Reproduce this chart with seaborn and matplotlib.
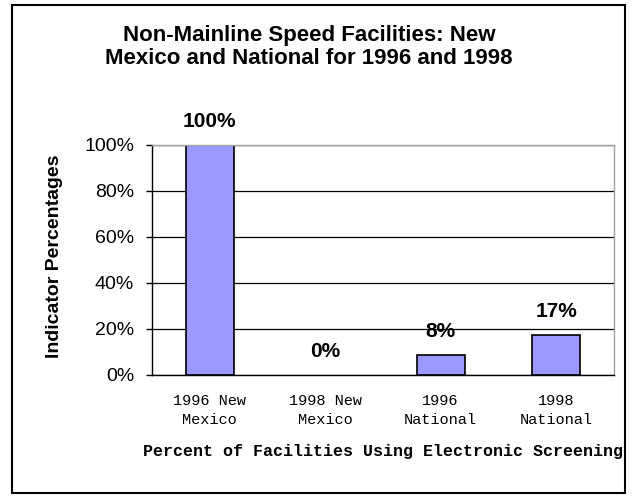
import pandas as pd
import matplotlib
matplotlib.use("Agg")
import matplotlib.pyplot as plt
import seaborn as sns
from matplotlib.patches import Rectangle

categories = ["1996 New\nMexico", "1998 New\nMexico", "1996\nNational", "1998\nNational"]
values = [100, 0, 8.7, 17.4]
labels = ["100%", "0%", "8%", "17%"]

df = pd.DataFrame({"cat": categories, "pct": values})

sns.set_style("white")
plt.rcParams["font.family"] = ["Liberation Sans", "DejaVu Sans"]
plt.rcParams["text.color"] = "black"
plt.rcParams["axes.labelcolor"] = "black"
plt.rcParams["xtick.color"] = "black"
plt.rcParams["ytick.color"] = "black"

fig = plt.figure(figsize=(6.36, 4.96), dpi=100)
ax = fig.add_axes([0.239, 0.244, 0.726, 0.464])

sns.barplot(data=df, x="cat", y="pct", color="#9999FF", saturation=1,
            edgecolor="black", linewidth=1.2, width=0.415, ax=ax)
# no outline for the empty bar
for p in ax.patches:
    if p.get_height() == 0:
        p.set_linewidth(0)

ax.set_ylim(0, 100)
ax.set_xlim(-0.5, 3.5)
ax.set_yticks(range(0, 101, 20))
ax.set_yticklabels([f"{v}%" for v in range(0, 101, 20)], fontsize=14)
ax.yaxis.grid(True, color="black", linewidth=0.9)
ax.set_axisbelow(True)

ax.set_xticks([-0.5, 0.5, 1.5, 2.5, 3.5])
ax.set_xticklabels([])
ax.set_xticks([0, 1, 2, 3], minor=True)
ax.set_xticklabels(categories, minor=True, family="Liberation Mono",
                   fontsize=11, linespacing=1.45)
ax.tick_params(axis="x", which="minor", length=0, pad=14)
ax.tick_params(axis="x", which="major", direction="out", length=6, width=1)
ax.tick_params(axis="y", direction="out", length=4.3, width=1, left=True, pad=8.6)

for s in ["left", "bottom"]:
    ax.spines[s].set_color("black")
    ax.spines[s].set_linewidth(1)
for s in ["top", "right"]:
    ax.spines[s].set_color("#a0a0a0")
    ax.spines[s].set_linewidth(1)

for i, (v, t) in enumerate(zip(values, labels)):
    ax.annotate(t, (i, v), xytext=(0, 13), textcoords="offset points",
                ha="center", va="baseline", fontsize=15, fontweight="bold",
                annotation_clip=False)

ax.set_xlabel("Percent of Facilities Using Electronic Screening",
              family="Liberation Mono", fontweight="bold", fontsize=12, labelpad=12)
ax.set_ylabel("Indicator Percentages", fontweight="bold", fontsize=14)
ax.yaxis.label.set_va("center")
ax.yaxis.set_label_coords(-0.212, 0.515)

fig.text(0.486, 0.905, "Non-Mainline Speed Facilities: New\nMexico and National for 1996 and 1998",
         ha="center", va="center", fontsize=16, fontweight="bold", linespacing=1.1)

fig.patches.append(Rectangle((0.0189, 0.006), 0.964, 0.984, transform=fig.transFigure,
                             fill=False, edgecolor="black", linewidth=1.5))

fig.savefig("out.png", dpi=100)
